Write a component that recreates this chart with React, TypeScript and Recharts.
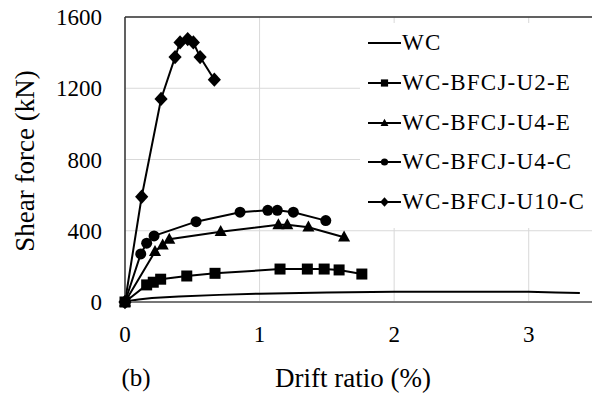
import { LineChart, Line, XAxis, YAxis, CartesianGrid, ReferenceLine } from 'recharts';

const FONT = '"Liberation Serif", "Times New Roman", serif';

// drift ratio (%) / shear force (kN)
const wcX = [0, 0.05, 0.1, 0.2, 0.4, 0.7, 1.0, 1.5, 2.0, 2.5, 3.0, 3.2, 3.38];
const wcY = [0, 8, 14, 22, 31, 40, 47, 53, 57, 58, 57, 54, 50];

const u2eX = [0, 0.161, 0.21, 0.265, 0.459, 0.669, 1.152, 1.355, 1.48, 1.591, 1.76];
const u2eY = [0, 96, 111, 128, 146, 161, 185, 185, 185, 180, 157];

const u4eX = [0, 0.223, 0.28, 0.329, 0.711, 1.14, 1.206, 1.363, 1.628];
const u4eY = [0, 283, 320, 352, 395, 433, 433, 420, 364];

const u4cX = [0, 0.117, 0.161, 0.216, 0.528, 0.855, 1.061, 1.132, 1.251, 1.492];
const u4cY = [0, 270, 330, 371, 451, 504, 515, 515, 504, 457];

const u10cX = [0, 0.124, 0.268, 0.372, 0.409, 0.466, 0.508, 0.558, 0.664];
const u10cY = [0, 591, 1140, 1375, 1457, 1476, 1457, 1375, 1248];

const xTicks = [0, 1, 2, 3];
const yTicks = [0, 400, 800, 1200, 1600];

const toRows = (xs: number[], ys: number[]) => xs.map((x, i) => ({ x, y: ys[i] }));

type Marker = 'none' | 'square' | 'triangle' | 'circle' | 'diamond';

function markerShape(kind: Marker, cx: number, cy: number, s: number, key?: string) {
  if (kind === 'square') return <rect key={key} x={cx - s} y={cy - s} width={2 * s} height={2 * s} fill="#000" />;
  if (kind === 'circle') return <circle key={key} cx={cx} cy={cy} r={s} fill="#000" />;
  if (kind === 'triangle')
    return (
      <polygon
        key={key}
        points={`${cx},${cy - s * 1.2} ${cx - s * 1.1},${cy + s * 0.8} ${cx + s * 1.1},${cy + s * 0.8}`}
        fill="#000"
      />
    );
  if (kind === 'diamond')
    return (
      <polygon
        key={key}
        points={`${cx},${cy - s * 1.3} ${cx + s * 1.2},${cy} ${cx},${cy + s * 1.3} ${cx - s * 1.2},${cy}`}
        fill="#000"
      />
    );
  return <g key={key} />;
}

// legend order
const series: { name: string; data: { x: number; y: number }[]; marker: Marker }[] = [
  { name: 'WC', data: toRows(wcX, wcY), marker: 'none' },
  { name: 'WC-BFCJ-U2-E', data: toRows(u2eX, u2eY), marker: 'square' },
  { name: 'WC-BFCJ-U4-E', data: toRows(u4eX, u4eY), marker: 'triangle' },
  { name: 'WC-BFCJ-U4-C', data: toRows(u4cX, u4cY), marker: 'circle' },
  { name: 'WC-BFCJ-U10-C', data: toRows(u10cX, u10cY), marker: 'diamond' },
];

// squares end up on top at the origin, as in the figure
const drawOrder = [series[0], series[4], series[3], series[2], series[1]];

function ChartLegend() {
  return (
    <div
      style={{
        position: 'absolute',
        left: 360,
        top: 23,
        width: 240,
        height: 205,
        background: '#fff',
        fontFamily: FONT,
      }}
    >
      {series.map((s, i) => (
        <div
          key={s.name}
          style={{ position: 'absolute', left: 8, top: 20 + i * 39.8 - 14, height: 28, display: 'flex', alignItems: 'center' }}
        >
          <svg width={34} height={28} style={{ display: 'block' }}>
            <line x1={0} y1={14} x2={33} y2={14} stroke="#000" strokeWidth={2} />
            {markerShape(s.marker, 16.5, 14, 3.6)}
          </svg>
          <span style={{ fontSize: 23, letterSpacing: 1.2, color: '#000', whiteSpace: 'nowrap', lineHeight: '28px' }}>
            {s.name}
          </span>
        </div>
      ))}
    </div>
  );
}

function Titles() {
  return (
    <g style={{ fontFamily: FONT }}>
      <text x={353} y={378} textAnchor="middle" dominantBaseline="central" fontSize={27} fill="#000">
        Drift ratio (%)
      </text>
      <text x={136} y={377} textAnchor="middle" dominantBaseline="central" fontSize={25} fill="#000">
        (b)
      </text>
      <text
        x={25}
        y={161}
        textAnchor="middle"
        dominantBaseline="central"
        fontSize={27}
        fill="#000"
        transform="rotate(-90 25 161)"
      >
        Shear force (kN)
      </text>
    </g>
  );
}

export default function App() {
  return (
    <div style={{ position: 'absolute', left: 0, top: 0, width: 592, height: 394, overflow: 'hidden', background: '#fff' }}>
      <LineChart width={600} height={394} margin={{ top: 17, right: 4, left: 0, bottom: 0 }}>
        <CartesianGrid stroke="#d9d9d9" strokeWidth={1} />
        <XAxis
          type="number"
          dataKey="x"
          domain={[0, 3.5]}
          ticks={xTicks}
          height={92}
          tickSize={0}
          tickMargin={24}
          axisLine={{ stroke: '#777', strokeWidth: 2 }}
          tick={{ fontSize: 23, fill: '#000', fontFamily: FONT }}
          label={{ content: () => <Titles /> }}
        />
        <YAxis
          type="number"
          dataKey="y"
          domain={[0, 1600]}
          ticks={yTicks}
          width={125}
          tickSize={0}
          tickMargin={23}
          axisLine={{ stroke: '#333', strokeWidth: 1.5 }}
          tick={{ fontSize: 23, fill: '#000', fontFamily: FONT }}
        />
        <ReferenceLine y={1600} stroke="#333" strokeWidth={1.5} />
        {drawOrder.map((s) => (
          <Line
            key={s.name}
            data={s.data}
            dataKey="y"
            name={s.name}
            type="linear"
            stroke="#000"
            strokeWidth={2}
            isAnimationActive={false}
            activeDot={false}
            dot={
              s.marker === 'none'
                ? false
                : (p: any) =>
                    p.cx == null ? <g key={`d${p.index}`} /> : markerShape(s.marker, p.cx, p.cy, 5.5, `d${p.index}`)
            }
          />
        ))}
      </LineChart>
      <ChartLegend />
    </div>
  );
}
